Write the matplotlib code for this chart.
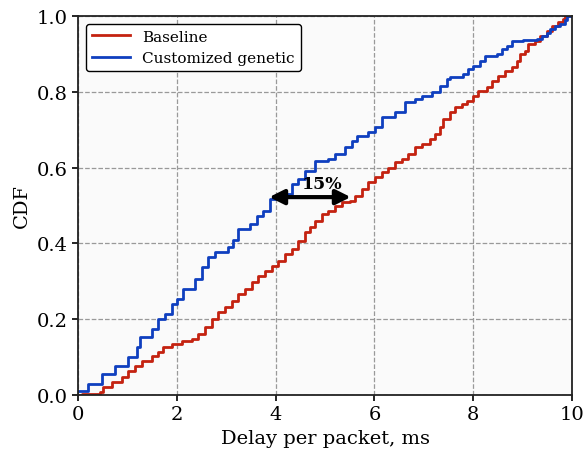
import matplotlib
matplotlib.use("Agg")
import matplotlib.pyplot as plt

plt.rcParams["font.family"] = ["DejaVu Serif"]

# Baseline CDF (delay ms, cumulative fraction)
base_delay = [0.0, 0.08, 0.45, 0.51, 0.69, 0.89, 1.01, 1.15, 1.30, 1.50, 1.62, 1.72,
              1.90, 2.11, 2.31, 2.43, 2.57, 2.71, 2.83, 2.98, 3.12, 3.24, 3.38, 3.52,
              3.64, 3.79, 3.93, 4.05, 4.19, 4.33, 4.45, 4.60, 4.70, 4.80, 4.94, 5.06,
              5.20, 5.34, 5.51, 5.61, 5.75, 5.87, 6.01, 6.15, 6.28, 6.42, 6.56, 6.68,
              6.82, 6.96, 7.13, 7.23, 7.33, 7.39, 7.53, 7.63, 7.77, 7.87, 8.00, 8.10,
              8.28, 8.38, 8.50, 8.64, 8.79, 8.89, 8.95, 9.05, 9.11, 9.25, 9.35, 9.49,
              9.60, 9.72, 9.82, 9.86, 10.0]
base_cdf = [0.0, 0.003, 0.008, 0.02, 0.034, 0.047, 0.063, 0.077, 0.09, 0.103, 0.113, 0.127,
            0.135, 0.142, 0.148, 0.161, 0.18, 0.20, 0.22, 0.232, 0.248, 0.266, 0.28, 0.298,
            0.314, 0.327, 0.34, 0.354, 0.372, 0.385, 0.406, 0.43, 0.443, 0.459, 0.478, 0.485,
            0.499, 0.51, 0.512, 0.525, 0.544, 0.562, 0.575, 0.588, 0.60, 0.615, 0.623, 0.636,
            0.654, 0.662, 0.675, 0.689, 0.707, 0.728, 0.747, 0.76, 0.768, 0.776, 0.789, 0.802,
            0.813, 0.828, 0.842, 0.855, 0.865, 0.881, 0.90, 0.908, 0.926, 0.934, 0.947, 0.96,
            0.974, 0.984, 0.992, 1.0, 1.0]

# Customized genetic CDF
gen_delay = [0.0, 0.2, 0.49, 0.75, 1.01, 1.19, 1.26, 1.50, 1.62, 1.76, 1.90, 2.00,
             2.13, 2.37, 2.51, 2.63, 2.77, 3.04, 3.14, 3.24, 3.48, 3.62, 3.74, 3.89,
             4.13, 4.33, 4.45, 4.60, 4.80, 5.06, 5.20, 5.40, 5.55, 5.65, 5.87, 6.01,
             6.15, 6.42, 6.62, 6.82, 6.96, 7.17, 7.33, 7.47, 7.53, 7.79, 7.89, 8.00,
             8.14, 8.24, 8.48, 8.58, 8.68, 8.79, 9.01, 9.29, 9.39, 9.49, 9.55, 9.66,
             9.76, 9.86, 9.90, 10.0]
gen_cdf = [0.01, 0.03, 0.055, 0.077, 0.10, 0.127, 0.153, 0.174, 0.20, 0.214, 0.24, 0.253,
           0.28, 0.306, 0.338, 0.364, 0.377, 0.39, 0.41, 0.438, 0.45, 0.472, 0.485, 0.517,
           0.53, 0.557, 0.57, 0.59, 0.617, 0.623, 0.636, 0.654, 0.67, 0.683, 0.694, 0.707,
           0.733, 0.747, 0.773, 0.78, 0.79, 0.80, 0.815, 0.834, 0.84, 0.847, 0.86, 0.868,
           0.88, 0.894, 0.90, 0.913, 0.92, 0.934, 0.937, 0.94, 0.947, 0.955, 0.966, 0.974,
           0.98, 0.99, 1.0, 1.0]

fig = plt.figure(figsize=(5.87, 4.52), dpi=100)
ax = fig.add_axes([0.133, 0.124, 0.8415, 0.8385])
ax.set_facecolor("#fafafa")

ax.plot(base_delay, base_cdf, drawstyle="steps-post", color="#c42210", lw=2, label="Baseline")
ax.plot(gen_delay, gen_cdf, drawstyle="steps-post", color="#0f3fbf", lw=2, label="Customized genetic")

# 15% gap annotation
ax.annotate("", xy=(3.87, 0.522), xytext=(5.52, 0.522),
            arrowprops=dict(arrowstyle="<|-|>", color="black", lw=3, mutation_scale=22,
                            shrinkA=0, shrinkB=0))
ax.text(4.94, 0.557, "15%", fontsize=12.5, fontweight="bold", ha="center", va="center")

ax.set_xlim(0, 10)
ax.set_ylim(0, 1.0)
ax.set_xticks([0, 2, 4, 6, 8, 10])
ax.set_yticks([0.0, 0.2, 0.4, 0.6, 0.8, 1.0])
ax.grid(True, linestyle="--", color="#999999", lw=0.9)
ax.tick_params(labelsize=14, direction="out", length=4, width=1.2)
for s in ax.spines.values():
    s.set_color("#222222")
    s.set_linewidth(1.3)
ax.set_xlabel("Delay per packet, ms", fontsize=14)
ax.set_ylabel("CDF", fontsize=14)

leg = ax.legend(loc="upper left", fontsize=11, framealpha=1, edgecolor="black",
                fancybox=True, handlelength=2.5)
leg.get_frame().set_linewidth(1.0)

fig.savefig("out.png", dpi=100)
